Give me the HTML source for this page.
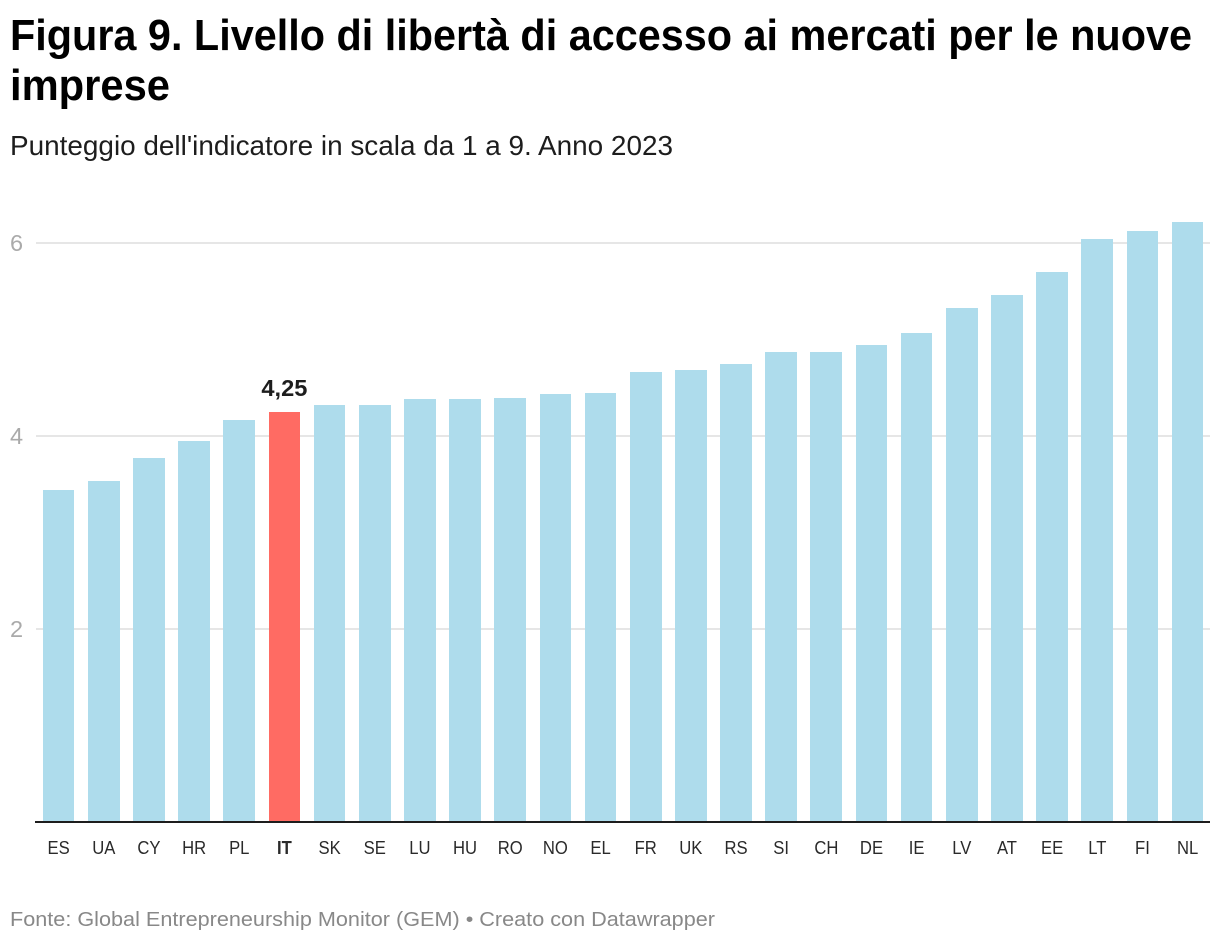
<!DOCTYPE html>
<html lang="it">
<head>
<meta charset="utf-8">
<title>Figura 9</title>
<style>
html,body{margin:0;padding:0;background:#fff;width:1220px;height:942px;overflow:hidden}
svg{display:block;font-family:"Liberation Sans",sans-serif}
</style>
</head>
<body>
<svg id="chart" width="1220" height="942" viewBox="0 0 1220 942" xmlns="http://www.w3.org/2000/svg">
  <rect x="0" y="0" width="1220" height="942" fill="#fff"/>
  <text x="10" y="50" font-size="44" font-weight="700" fill="#000" textLength="1182" lengthAdjust="spacingAndGlyphs">Figura 9. Livello di libertà di accesso ai mercati per le nuove</text>
  <text x="10" y="100" font-size="44" font-weight="700" fill="#000" textLength="160" lengthAdjust="spacingAndGlyphs">imprese</text>
  <text x="10" y="155" font-size="28" fill="#1d1d1d" textLength="663" lengthAdjust="spacingAndGlyphs">Punteggio dell'indicatore in scala da 1 a 9. Anno 2023</text>
  <g id="grid"></g>
  <g id="bars"></g>
  <g id="xlabels"></g>
  <line x1="35" x2="1210" y1="822" y2="822" stroke="#1d1d1d" stroke-width="2"/>
  <text x="10" y="926" font-size="20.5" fill="#888" textLength="705" lengthAdjust="spacingAndGlyphs">Fonte: Global Entrepreneurship Monitor (GEM) • Creato con Datawrapper</text>
</svg>
<script>
const categories = ["ES","UA","CY","HR","PL","IT","SK","SE","LU","HU","RO","NO","EL","FR","UK","RS","SI","CH","DE","IE","LV","AT","EE","LT","FI","NL"];
const values = [3.44,3.53,3.77,3.95,4.17,4.25,4.32,4.32,4.38,4.38,4.39,4.44,4.45,4.66,4.68,4.75,4.87,4.87,4.94,5.07,5.33,5.46,5.70,6.04,6.12,6.22];
const yTicks = [2,4,6];
const highlighted = "IT";
const highlightLabel = "4,25";

const NS = "http://www.w3.org/2000/svg";
function yScale(v){ return 822 - v * 96.5; }
function xCenter(i){ return 58.6 + i * (1129 / (categories.length - 1)); }
const barWidth = 31.7;

const gridG = document.getElementById("grid");
const barsG = document.getElementById("bars");
const labelsG = document.getElementById("xlabels");

yTicks.forEach(function(t){
  const line = document.createElementNS(NS, "line");
  
  
  line.setAttribute("x1", 36);
  line.setAttribute("x2", 1210);
  line.setAttribute("y1", yScale(t));
  line.setAttribute("y2", yScale(t));
  line.setAttribute("stroke", "#e6e6e6");
  line.setAttribute("stroke-width", 2);
  gridG.appendChild(line);

  const label = document.createElementNS(NS, "text");
  
  
  label.setAttribute("x", 10);
  label.setAttribute("y", yScale(t) + 8);
  label.setAttribute("font-size", 23.5);
  label.setAttribute("fill", "#aaaaaa");
  label.textContent = String(t);
  gridG.appendChild(label);
});

categories.forEach(function(c, i){
  const isHi = c === highlighted;
  const top = Math.round(yScale(values[i]));
  const left = Math.round(xCenter(i) - barWidth / 2);
  const right = Math.round(xCenter(i) + barWidth / 2);
  const rect = document.createElementNS(NS, "rect");
  
  
  rect.setAttribute("x", left);
  rect.setAttribute("y", top);
  rect.setAttribute("width", right - left);
  rect.setAttribute("height", 822 - top);
  rect.setAttribute("fill", isHi ? "#ff6b63" : "#aedcec");
  barsG.appendChild(rect);

  const label = document.createElementNS(NS, "text");
  
  
  label.setAttribute("transform", "translate(" + xCenter(i) + " 854) scale(0.9 1)");
  label.setAttribute("font-size", 18.5);
  label.setAttribute("text-anchor", "middle");
  label.setAttribute("fill", "#2a2a2a");
  if (isHi) label.setAttribute("font-weight", "700");
  label.textContent = c;
  labelsG.appendChild(label);

  if (isHi) {
    const value = document.createElementNS(NS, "text");
    
    
    value.setAttribute("x", xCenter(i) - 23);
    value.setAttribute("y", top - 16);
    value.setAttribute("font-size", 23);
    value.setAttribute("font-weight", "700");
    value.setAttribute("textLength", 46);
    value.setAttribute("lengthAdjust", "spacingAndGlyphs");
    value.setAttribute("fill", "#1d1d1d");
    value.textContent = highlightLabel;
    barsG.appendChild(value);
  }
});
</script>
</body>
</html>
